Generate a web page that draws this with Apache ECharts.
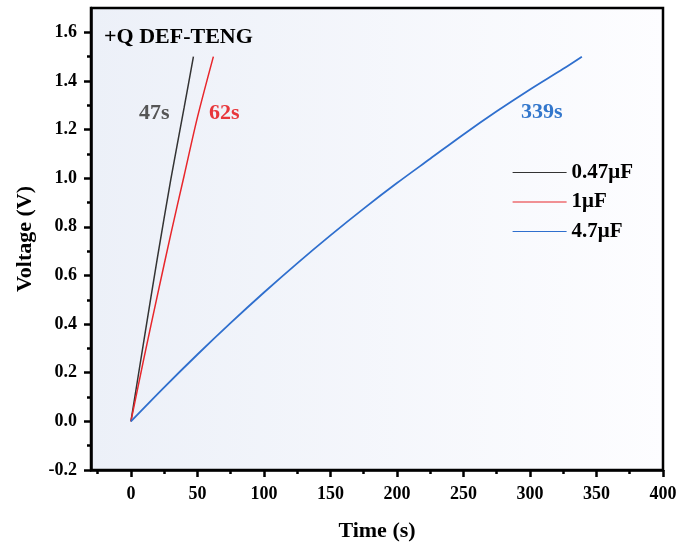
<!DOCTYPE html>
<html>
<head>
<meta charset="utf-8">
<script src="https://cdn.jsdelivr.net/npm/echarts@6/dist/echarts.min.js"></script>
<style>
  html, body { margin: 0; padding: 0; background: #fff; }
  #chart { width: 684px; height: 551px; }
</style>
</head>
<body>
<div id="chart"></div>
<script>
// values
var tBlack = [0, 10, 20, 30, 40, 47];
var vBlack = [0, 0.34, 0.675, 0.995, 1.29, 1.5];
var tRed = [0, 10, 20, 30, 40, 50, 62];
var vRed = [0, 0.265, 0.52, 0.77, 1.01, 1.25, 1.5];
var tBlue = [0, 25, 50, 75, 100, 125, 150, 175, 200, 225, 250, 275, 300, 325, 339];
var vBlue = [0, 0.14, 0.275, 0.405, 0.53, 0.65, 0.765, 0.875, 0.98, 1.08, 1.18, 1.275, 1.365, 1.45, 1.5];

var seriesNames = ["0.47μF", "1μF", "4.7μF"];
var xTicks = [0, 50, 100, 150, 200, 250, 300, 350, 400];
var xMinorTicks = [-25, 25, 75, 125, 175, 225, 275, 325, 375];
var yTicks = [-0.2, 0, 0.2, 0.4, 0.6, 0.8, 1.0, 1.2, 1.4, 1.6];
var yMinorTicks = [-0.1, 0.1, 0.3, 0.5, 0.7, 0.9, 1.1, 1.3, 1.5];

function pairs(t, v) {
  return t.map(function (x, i) { return [x, v[i]]; });
}

var font = "'Liberation Serif', 'Times New Roman', serif";
var colors = ["#333333", "#e8262b", "#2f6fce"];

var chart = echarts.init(document.getElementById("chart"));

var option = {
  animation: false,
  grid: {
    left: 91,
    right: 21,
    top: 8,
    bottom: 81,
    show: true,
    borderColor: "#000",
    borderWidth: 2.5,
    backgroundColor: new echarts.graphic.LinearGradient(0, 0, 1, 0, [
      { offset: 0, color: "#ecf0f8" },
      { offset: 1, color: "#fdfdff" }
    ])
  },
  xAxis: [
    {
      type: "value",
      min: -30,
      max: 400,
      position: "bottom",
      name: "Time (s)",
      nameLocation: "middle",
      nameGap: 50,
      nameTextStyle: { fontFamily: font, fontWeight: "bold", fontSize: 22, color: "#000" },
      splitLine: { show: false },
      axisLine: { onZero: false, lineStyle: { color: "#000", width: 2.5 } },
      axisTick: { customValues: xTicks, length: 7, lineStyle: { color: "#000", width: 2.5 } },
      axisLabel: {
        customValues: xTicks,
        margin: 15,
        fontFamily: font, fontWeight: "bold", fontSize: 18, color: "#000"
      }
    },
    {
      type: "value",
      min: -30,
      max: 400,
      position: "bottom",
      splitLine: { show: false },
      axisLine: { show: false, onZero: false },
      axisTick: { customValues: xMinorTicks, length: 4, lineStyle: { color: "#000", width: 2.5 } },
      axisLabel: { show: false }
    }
  ],
  yAxis: [
    {
      type: "value",
      min: -0.2,
      max: 1.7,
      position: "left",
      name: "Voltage (V)",
      nameLocation: "middle",
      nameGap: 55,
      nameTextStyle: { fontFamily: font, fontWeight: "bold", fontSize: 22, color: "#000" },
      splitLine: { show: false },
      axisLine: { onZero: false, lineStyle: { color: "#000", width: 2.5 } },
      axisTick: { customValues: yTicks, length: 7, lineStyle: { color: "#000", width: 2.5 } },
      axisLabel: {
        customValues: yTicks,
        margin: 14,
        formatter: function (v) { return v.toFixed(1); },
        fontFamily: font, fontWeight: "bold", fontSize: 18, color: "#000"
      }
    },
    {
      type: "value",
      min: -0.2,
      max: 1.7,
      position: "left",
      splitLine: { show: false },
      axisLine: { show: false, onZero: false },
      axisTick: { customValues: yMinorTicks, length: 4, lineStyle: { color: "#000", width: 2.5 } },
      axisLabel: { show: false }
    }
  ],
  legend: {
    orient: "vertical",
    left: 507,
    top: 157,
    itemWidth: 54,
    itemHeight: 14,
    itemGap: 8.5,
    itemStyle: { opacity: 0 },
    lineStyle: { width: 1.2 },
    textStyle: { fontFamily: font, fontWeight: "bold", fontSize: 21, color: "#000" },
    data: seriesNames
  },
  graphic: [
    { type: "text", left: 104, top: 26,
      style: { text: "+Q DEF-TENG", fill: "#000", font: "bold 22px " + font } },
    { type: "text", left: 139, top: 102,
      style: { text: "47s", fill: "#555555", font: "bold 22px " + font } },
    { type: "text", left: 209, top: 102,
      style: { text: "62s", fill: "#e8363b", font: "bold 22px " + font } },
    { type: "text", left: 521, top: 101,
      style: { text: "339s", fill: "#3377cc", font: "bold 22px " + font } }
  ],
  series: [
    { name: seriesNames[0], type: "line", data: pairs(tBlack, vBlack), symbol: "none", smooth: 0.3,
      color: colors[0], lineStyle: { width: 1.5 } },
    { name: seriesNames[1], type: "line", data: pairs(tRed, vRed), symbol: "none", smooth: 0.3,
      color: colors[1], lineStyle: { width: 1.5 } },
    { name: seriesNames[2], type: "line", data: pairs(tBlue, vBlue), symbol: "none", smooth: 0.3,
      color: colors[2], lineStyle: { width: 1.8 } }
  ]
};

chart.setOption(option);
</script>
</body>
</html>
